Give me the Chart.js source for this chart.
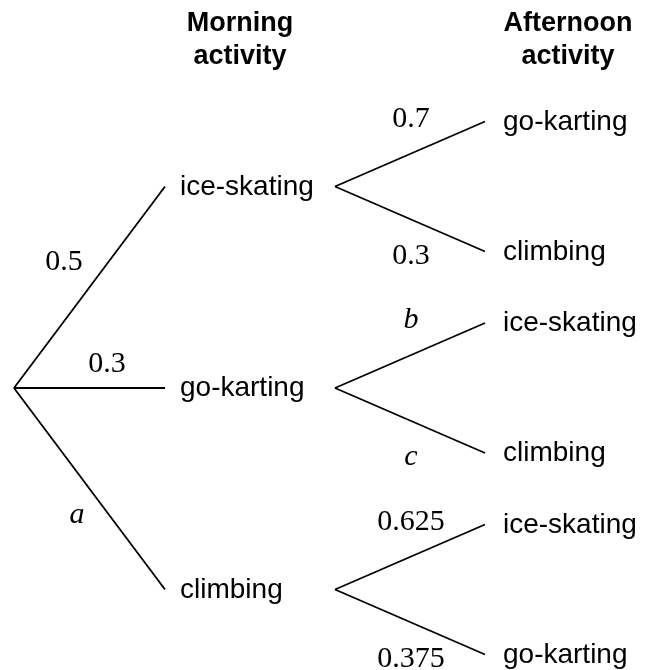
<!DOCTYPE html>
<html>
<head>
<meta charset="utf-8">
<script src="https://cdn.jsdelivr.net/npm/chart.js@4.4.0/dist/chart.umd.min.js"></script>
<style>
  body { margin: 0; background: #fff; }
  #wrap { width: 646px; height: 670px; }
</style>
</head>
<body>
<div id="wrap"><canvas id="myChart"></canvas></div>
<script>
// tree content
const morning = ['ice-skating', 'go-karting', 'climbing'];
const morningProb = ['0.5', '0.3', 'a'];
const afternoon = [
  ['go-karting', 'climbing'],
  ['ice-skating', 'climbing'],
  ['ice-skating', 'go-karting'],
];
const afternoonProb = [
  ['0.7', '0.3'],
  ['b', 'c'],
  ['0.625', '0.375'],
];
const headers = [
  ['Morning', 'activity'],
  ['Afternoon', 'activity'],
];

// layout (axis units = pixels of the 646x670 page)
const rootX = 14;
const midX = 165;
const nodeX = 335;
const endX = 485;
const rootY = 388;
const rowGap = 201.5;
const split = 65;
const headerX = [240, 568];
const firstProbPos = [
  { x: 64, y: 270 },
  { x: 107, y: 372 },
  { x: 77, y: 523 },
];

const rowY = morning.map((m, i) => rootY + (i - 1) * rowGap);

const datasets = [];
morning.forEach((m, i) => {
  datasets.push({
    data: [
      { x: rootX, y: rootY },
      { x: midX, y: rowY[i] },
    ],
  });
  afternoon[i].forEach((a, j) => {
    datasets.push({
      data: [
        { x: nodeX, y: rowY[i] },
        { x: endX, y: rowY[i] + (j === 0 ? -split : split) },
      ],
    });
  });
});
datasets.forEach((d) => {
  d.showLine = true;
  d.borderColor = '#000';
  d.borderWidth = 1.8;
  d.pointRadius = 0;
  d.pointHoverRadius = 0;
});

const isLetter = (s) => /^[a-z]$/.test(s);

const treeText = {
  id: 'treeText',
  afterDatasetsDraw(chart) {
    const { ctx } = chart;
    const sx = chart.scales.x;
    const sy = chart.scales.y;
    const px = (v) => sx.getPixelForValue(v);
    const py = (v) => sy.getPixelForValue(v);
    ctx.save();
    ctx.fillStyle = '#000';
    ctx.textBaseline = 'alphabetic';

    // headers
    ctx.font = 'bold 27px "Liberation Sans", Arial, sans-serif';
    ctx.textAlign = 'center';
    headers.forEach((h, k) => {
      ctx.fillText(h[0], px(headerX[k]), py(31));
      ctx.fillText(h[1], px(headerX[k]), py(64));
    });

    // outcome names
    ctx.font = '28px "Liberation Sans", Arial, sans-serif';
    ctx.textAlign = 'left';
    morning.forEach((m, i) => {
      ctx.fillText(m, px(midX + 15), py(rowY[i] + 8));
      afternoon[i].forEach((a, j) => {
        const y = rowY[i] + (j === 0 ? -split : split);
        ctx.fillText(a, px(endX + 18), py(y + 8));
      });
    });

    // probabilities
    ctx.textAlign = 'center';
    const probFont = (s) =>
      (isLetter(s) ? 'italic ' : '') + '30px "Liberation Serif", "Times New Roman", serif';
    morningProb.forEach((p, i) => {
      ctx.font = probFont(p);
      ctx.fillText(p, px(firstProbPos[i].x), py(firstProbPos[i].y));
    });
    afternoonProb.forEach((pair, i) => {
      pair.forEach((p, j) => {
        ctx.font = probFont(p);
        const y = rowY[i] + (j === 0 ? -split + 5 : split + 12);
        ctx.fillText(p, px((nodeX + endX) / 2 + 1), py(y));
      });
    });
    ctx.restore();
  },
};

const ctx = document.getElementById('myChart');

new Chart(ctx, {
  type: 'scatter',
  data: { datasets },
  options: {
    responsive: true,
    maintainAspectRatio: false,
    animation: false,
    layout: { padding: 0 },
    plugins: {
      legend: { display: false },
      tooltip: { enabled: false },
    },
    scales: {
      x: { type: 'linear', min: 0, max: 646, display: false },
      y: { type: 'linear', min: 0, max: 670, reverse: true, display: false },
    },
  },
  plugins: [treeText],
});
</script>
</body>
</html>
